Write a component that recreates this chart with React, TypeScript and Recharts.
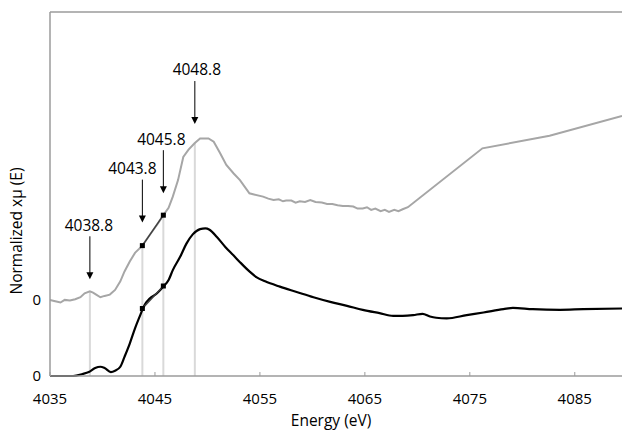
import { Line, LineChart, ReferenceDot, ReferenceLine, XAxis, YAxis } from "recharts";

// energy axis ticks (eV)
const energyTicks = [4035, 4045, 4055, 4065, 4075, 4085];

// lower trace (black)
const blackEnergy = [
  4035.0, 4037.2, 4038.1, 4038.7, 4039.3, 4039.8, 4040.2, 4040.8, 4041.2, 4041.7,
  4042.1, 4042.6, 4043.1, 4043.6, 4044.0, 4044.5, 4045.2, 4045.8, 4046.3, 4046.7,
  4047.4, 4048.0, 4048.6, 4049.3, 4049.8, 4050.2, 4050.9, 4051.7, 4052.5, 4053.1,
  4054.0, 4054.7, 4055.5, 4056.9, 4058.5, 4060.1, 4061.7, 4063.3, 4064.8, 4066.4, 4067.7,
  4068.6, 4069.6, 4070.5, 4071.2, 4071.8, 4072.8, 4074.7, 4076.3, 4078.2, 4079.1,
  4081.0, 4083.6, 4085.8, 4089.5
];
const blackMu = [
  0.0, 0.0, 0.03, 0.06, 0.12, 0.14, 0.12, 0.06, 0.08, 0.14,
  0.29, 0.49, 0.72, 0.92, 1.07, 1.17, 1.25, 1.35, 1.45, 1.6,
  1.8, 2.0, 2.14, 2.22, 2.23, 2.21, 2.1, 1.95, 1.82, 1.72,
  1.58, 1.49, 1.43, 1.35, 1.27, 1.19, 1.12, 1.06, 1.0, 0.95, 0.91,
  0.91, 0.92, 0.94, 0.9, 0.88, 0.87, 0.92, 0.96, 1.01, 1.03,
  1.01, 1.0, 1.01, 1.02
];

// upper trace (grey), values relative to its own zero
const grayEnergy = [
  4035.0, 4035.5, 4036.0, 4036.4, 4036.9, 4037.4, 4037.9, 4038.3, 4038.8, 4039.1,
  4039.4, 4039.8, 4040.2, 4040.7, 4041.2, 4041.7, 4042.1, 4042.6, 4043.1, 4043.8,
  4044.5, 4045.3, 4045.8, 4046.3, 4046.7, 4047.2, 4047.7, 4048.2, 4048.8, 4049.3,
  4050.1, 4050.6, 4051.2, 4051.8, 4052.5, 4053.1, 4054.0, 4055.3, 4055.8, 4056.3,
  4056.8, 4057.2, 4057.5, 4058.0, 4058.4, 4058.8, 4059.3, 4059.8, 4060.3, 4060.9,
  4061.4, 4061.9, 4062.4, 4062.9, 4063.4, 4063.9, 4064.3, 4064.8, 4065.2, 4065.6,
  4066.0, 4066.5, 4066.9, 4067.3, 4067.8, 4068.2, 4068.6, 4069.1, 4076.2, 4082.6,
  4089.5
];
const grayMu = [
  0.0, -0.02, -0.04, 0.0, -0.01, 0.01, 0.04, 0.1, 0.13, 0.11,
  0.08, 0.04, 0.06, 0.08, 0.15, 0.28, 0.43, 0.58, 0.71, 0.82,
  0.98, 1.16, 1.28, 1.39, 1.56, 1.81, 2.16, 2.27, 2.37, 2.44,
  2.44, 2.39, 2.22, 2.04, 1.91, 1.81, 1.61, 1.56, 1.53, 1.51,
  1.52, 1.49, 1.5, 1.5, 1.47, 1.49, 1.48, 1.51, 1.48, 1.47,
  1.45, 1.45, 1.43, 1.42, 1.42, 1.41, 1.38, 1.38, 1.4, 1.36,
  1.38, 1.34, 1.36, 1.33, 1.36, 1.34, 1.37, 1.4, 2.29, 2.48,
  2.78
];
const GRAY_OFFSET = 1.15;

// marked energies and the two-point slope segments
const edgeEnergies = [4038.8, 4043.8, 4045.8, 4048.8];
const edgeLabels = ["4038.8", "4043.8", "4045.8", "4048.8"];
const slopeEnergy = [4043.8, 4045.8];
const blackSlopeMu = [1.02, 1.36];
const graySlopeMu = [0.82, 1.28];

const blackData = blackEnergy.map((e, i) => ({ e, v: blackMu[i] }));
const grayData = grayEnergy.map((e, i) => ({ e, v: grayMu[i] + GRAY_OFFSET }));
const blackSlope = slopeEnergy.map((e, i) => ({ e, v: blackSlopeMu[i] }));
const graySlope = slopeEnergy.map((e, i) => ({ e, v: graySlopeMu[i] + GRAY_OFFSET }));

const grayAt = (e: number) => grayData.find((d) => Math.abs(d.e - e) < 0.01)?.v ?? 0;

// arrow layout: gap above grey curve (px) and label x shift (px)
const arrowGap = [12, 23, 22, 19];
const labelShift = [-1, -10, -2, 2];

const FONT = "'Open Sans', sans-serif";
const AXIS = "#9b9b9b";

const XTick = (props: any) => {
  const { x, y, payload } = props;
  const axisY = y - 17;
  return (
    <g>
      <line x1={x} x2={x} y1={axisY - 4} y2={axisY} stroke={AXIS} strokeWidth={1} />
      <text x={x} y={y} dy="0.71em" textAnchor="middle" fontFamily={FONT} fontSize={15} fill="#000">
        {payload.value}
      </text>
    </g>
  );
};

const Square = (p: any) => (
  <rect key={`${p.cx}-${p.cy}`} x={p.cx - 2.5} y={p.cy - 2.5} width={5} height={5} fill="#000" />
);

const arrowShape = (i: number) => (p: any) => {
  const { cx } = p;
  const cy = p.cy - arrowGap[i];
  return (
    <g>
      <line x1={cx} x2={cx} y1={cy - 43} y2={cy - 6} stroke="#000" strokeWidth={1} />
      <path d={`M${cx - 3.5},${cy - 7} L${cx + 3.5},${cy - 7} L${cx},${cy} Z`} fill="#000" />
      <text
        x={cx + labelShift[i]}
        y={cy - 54}
        dy="0.35em"
        textAnchor="middle"
        fontFamily={FONT}
        fontSize={15.5}
        fill="#000"
      >
        {edgeLabels[i]}
      </text>
    </g>
  );
};

export default function App() {
  return (
    <div style={{ position: "absolute", left: 0, top: 0, background: "#fff" }}>
      <LineChart width={622} height={430} margin={{ top: 12, right: 0, bottom: 0, left: 0 }}>
        <XAxis
          dataKey="e"
          type="number"
          domain={[4035, 4089.5]}
          ticks={energyTicks}
          allowDataOverflow
          height={54}
          stroke={AXIS}
          strokeWidth={1.5}
          tickLine={false}
          tickSize={0}
          tickMargin={17}
          tick={<XTick />}
          label={(p: any) => {
            const vb = p.viewBox;
            return (
              <text
                x={vb.x + vb.width / 2 - 5}
                y={vb.y + 45}
                dy="0.35em"
                textAnchor="middle"
                fontFamily={FONT}
                fontSize={15.5}
                fill="#000"
              >
                Energy (eV)
              </text>
            );
          }}
        />
        <YAxis
          type="number"
          domain={[0, 5.5]}
          ticks={[0, GRAY_OFFSET]}
          tickFormatter={() => "0"}
          width={50}
          stroke={AXIS}
          strokeWidth={1.5}
          tickLine={false}
          tickSize={0}
          tickMargin={9}
          tick={{ fill: "#000", fontSize: 15, fontFamily: FONT }}
          label={() => (
            <text
              x={17}
              y={231}
              dy="0.35em"
              textAnchor="middle"
              transform="rotate(-90 17 231)"
              fontFamily={FONT}
              fontSize={15.5}
              fill="#000"
            >
              Normalized xµ (E)
            </text>
          )}
        />
        <ReferenceLine y={5.5} stroke={AXIS} strokeWidth={1.5} />
        {edgeEnergies.map((e) => (
          <ReferenceLine
            key={`drop-${e}`}
            segment={[
              { x: e, y: 0 },
              { x: e, y: grayAt(e) }
            ]}
            stroke="#d9d9d9"
            strokeWidth={2}
          />
        ))}
        <Line
          data={grayData}
          dataKey="v"
          type="linear"
          stroke="#a6a6a6"
          strokeWidth={2}
          dot={false}
          isAnimationActive={false}
        />
        <Line
          data={blackData}
          dataKey="v"
          type="monotone"
          stroke="#000"
          strokeWidth={2.2}
          dot={false}
          isAnimationActive={false}
        />
        <Line
          data={graySlope}
          dataKey="v"
          type="linear"
          stroke="#404040"
          strokeWidth={1.5}
          dot={Square}
          isAnimationActive={false}
        />
        <Line
          data={blackSlope}
          dataKey="v"
          type="linear"
          stroke="#404040"
          strokeWidth={1.5}
          dot={Square}
          isAnimationActive={false}
        />
        {edgeEnergies.map((e, i) => (
          <ReferenceDot
            key={`arrow-${e}`}
            x={e}
            y={grayAt(e)}
            r={0}
            shape={arrowShape(i)}
          />
        ))}
      </LineChart>
    </div>
  );
}
